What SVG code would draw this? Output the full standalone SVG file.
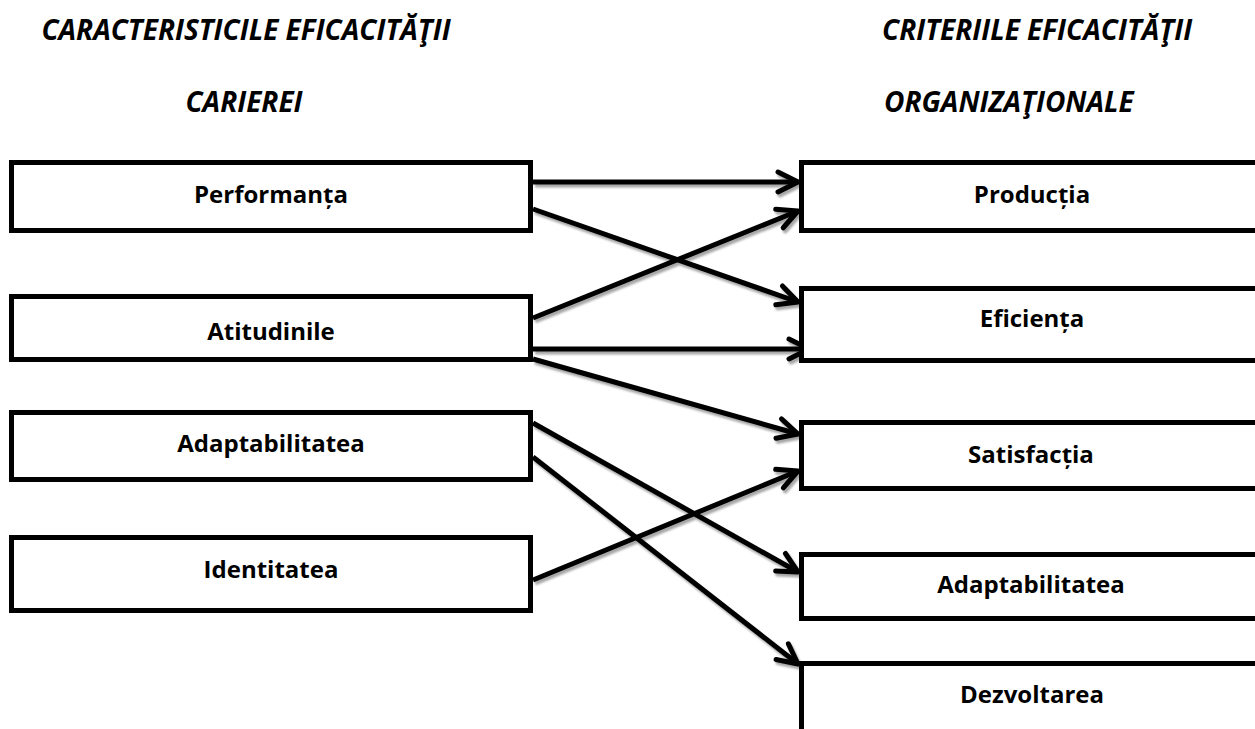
<svg xmlns="http://www.w3.org/2000/svg" width="1255" height="729" viewBox="0 0 1255 729">
<style>
.box{fill:#fff;stroke:#000;stroke-width:5}
.lbl{font-family:"Open Sans","Liberation Sans",sans-serif;font-weight:bold;font-size:24px;text-anchor:middle;fill:#000}
.ttl{font-family:"Open Sans","Liberation Sans",sans-serif;font-weight:bold;font-style:italic;font-size:28px;fill:#000}
.con{fill:none;stroke:#000;stroke-width:5;marker-end:url(#arr)}
</style>
<defs>
<filter id="sh" x="-5%" y="-20%" width="110%" height="140%">
<feDropShadow dx="2" dy="3" stdDeviation="1" flood-color="#000" flood-opacity="0.35"/>
</filter>
<marker id="arr" markerUnits="userSpaceOnUse" markerWidth="40" markerHeight="40" refX="0" refY="0" orient="auto" overflow="visible">
<path d="M-20,-10 L0,0 L-20,10" fill="none" stroke="#000" stroke-width="5" stroke-linecap="round" stroke-linejoin="round"/>
</marker>
</defs>
<g id="titles">
<text class="ttl" x="246" y="40" text-anchor="middle">CARACTERISTICILE EFICACITĂŢII</text>
<text class="ttl" x="244" y="112" text-anchor="middle">CARIEREI</text>
<text class="ttl" x="882" y="40">CRITERIILE EFICACITĂŢII</text>
<text class="ttl" x="884" y="112">ORGANIZAŢIONALE</text>
</g>
<g id="connectors" filter="url(#sh)">
<path class="con" d="M533,182 L798,182"/>
<path class="con" d="M533,209 L798,302"/>
<path class="con" d="M533,318 L798,211"/>
<path class="con" d="M533,349 L809,349"/>
<path class="con" d="M533,359 L798,434"/>
<path class="con" d="M533,423 L798,572"/>
<path class="con" d="M533,457 L798,664"/>
<path class="con" d="M533,580 L798,471"/>
</g>
<g id="n-performanta"><rect class="box" x="11.5" y="162.5" width="519" height="68"/><text class="lbl" x="271" y="203">Performanța</text></g>
<g id="n-atitudinile"><rect class="box" x="11.5" y="296.5" width="519" height="63"/><text class="lbl" x="271" y="340">Atitudinile</text></g>
<g id="n-adaptabilitatea-l"><rect class="box" x="11.5" y="412.5" width="519" height="67"/><text class="lbl" x="271" y="452">Adaptabilitatea</text></g>
<g id="n-identitatea"><rect class="box" x="11.5" y="537.5" width="519" height="73"/><text class="lbl" x="271" y="578">Identitatea</text></g>
<g id="n-productia"><rect class="box" x="801.5" y="162.5" width="470" height="68"/><text class="lbl" x="1032" y="203">Producția</text></g>
<g id="n-eficienta"><rect class="box" x="801.5" y="288.5" width="470" height="72"/><text class="lbl" x="1032" y="327">Eficiența</text></g>
<g id="n-satisfactia"><rect class="box" x="801.5" y="422.5" width="470" height="66"/><text class="lbl" x="1031" y="463">Satisfacția</text></g>
<g id="n-adaptabilitatea-r"><rect class="box" x="801.5" y="554.5" width="470" height="64"/><text class="lbl" x="1031" y="593">Adaptabilitatea</text></g>
<g id="n-dezvoltarea"><rect class="box" x="801.5" y="663.5" width="470" height="100"/><text class="lbl" x="1032" y="703">Dezvoltarea</text></g>
</svg>
